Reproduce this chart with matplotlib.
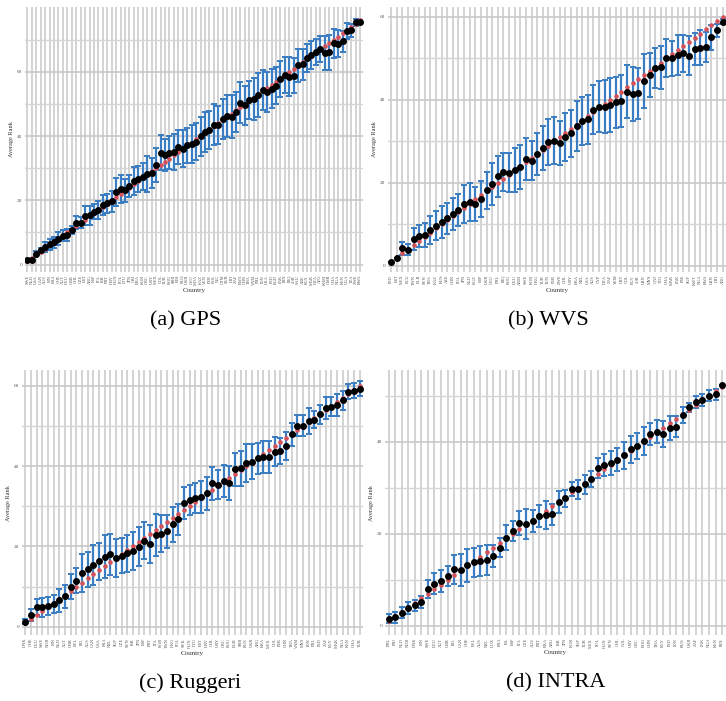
import matplotlib
matplotlib.use("Agg")
import matplotlib.pyplot as plt
import numpy as np

plt.rcParams['font.family'] = ['Liberation Serif', 'DejaVu Serif']

# ---- GPS ----
gps_codes = ["SWE", "NLD", "USA", "CAN", "AUS", "FIN", "FRA", "CHE", "AUT", "DEU",
             "GBR", "CHL", "CZE", "EST", "ARG", "ESP", "ITA", "ISR", "PRT", "HRV",
             "HUN", "POL", "LTU", "JPN", "CRI", "BRA", "KOR", "GRC", "URY", "MEX",
             "COL", "TUR", "ROU", "SRB", "BIH", "RUS", "UKR", "GEO", "MDA", "KAZ",
             "VEN", "PER", "BOL", "NIC", "GTM", "SUR", "HTI", "ZAF", "BWA", "CHN",
             "THA", "VNM", "PHL", "IDN", "LKA", "IND", "BGD", "PAK", "IRN", "IRQ",
             "JOR", "SAU", "ARE", "EGY", "MAR", "DZA", "AFG", "KHM", "CMR", "GHA",
             "NGA", "KEN", "UGA", "TZA", "ZWE", "RWA"]
gps_mean = [1.3, 1.5, 3.4, 4.4, 5.5, 6.3, 6.9, 8.1, 9.0, 9.3,
            10.7, 13.0, 13.1, 15.2, 15.3, 16.5, 17.0, 18.5, 19.1, 19.7,
            22.6, 23.5, 23.1, 24.4, 26.1, 26.7, 27.4, 28.3, 28.5, 31.0,
            34.9, 34.2, 34.9, 35.2, 36.6, 36.1, 37.1, 37.5, 38.3, 39.9,
            41.2, 41.9, 43.5, 43.5, 45.4, 46.3, 46.1, 47.6, 50.4, 49.6,
            51.2, 51.5, 52.8, 54.3, 53.8, 54.8, 55.7, 57.8, 59.0, 58.5,
            58.8, 62.0, 62.4, 64.3, 65.2, 66.2, 67.1, 65.9, 66.1, 68.9,
            68.8, 69.5, 72.7, 72.9, 75.4, 75.6]
gps_err = [0.5, 0.6, 0.8, 0.9, 1.5, 1.8, 1.8, 2.0, 1.8, 1.8,
           1.3, 2.0, 1.8, 2.9, 3.0, 2.3, 2.8, 3.1, 2.9, 3.3,
           4.4, 4.3, 3.6, 3.5, 4.4, 4.1, 4.1, 5.6, 4.7, 5.2,
           5.5, 5.0, 5.2, 5.6, 5.3, 5.8, 5.5, 6.0, 5.7, 6.0,
           6.2, 5.8, 6.4, 6.0, 6.3, 6.5, 6.8, 6.2, 6.3, 6.0,
           6.0, 6.5, 7.0, 6.2, 6.2, 6.0, 5.8, 5.5, 5.6, 6.0,
           5.5, 5.0, 4.8, 4.4, 4.3, 4.1, 4.0, 5.4, 5.5, 4.5,
           4.3, 3.2, 2.6, 2.0, 1.0, 0.6]

# ---- WVS ----
wvs_codes = ["IND", "EST", "MEX", "ECU", "TWN", "BLR", "SVN", "THA", "KAZ", "RUS",
             "AZE", "CHN", "POL", "JPN", "NLD", "KGZ", "ESP", "UKR", "GEO", "PHL",
             "IRQ", "ROU", "DEU", "ARM", "SWE", "KOR", "HKG", "TUR", "TUN", "PER",
             "ZWE", "CHL", "URY", "BRA", "NZL", "USA", "AUS", "CYP", "DZA", "ZAF",
             "YEM", "LBY", "COL", "EGY", "JOR", "LBN", "MYS", "QAT", "TTO", "GHA",
             "MAR", "PAK", "PSE", "SGP", "KWT", "NGA", "RWA", "LBN", "HTI", "ARG"]
wvs_mean = [0.8, 1.8, 4.2, 3.9, 6.5, 7.2, 7.4, 8.6, 9.6, 10.5,
            11.4, 12.5, 13.4, 14.9, 15.4, 14.9, 16.1, 18.2, 19.7, 21.6,
            22.6, 22.4, 23.1, 23.9, 25.7, 25.3, 26.9, 28.3, 29.8, 30.2,
            29.6, 31.0, 31.9, 33.7, 34.9, 35.3, 37.6, 38.4, 38.4, 38.8,
            39.4, 39.8, 42.0, 41.4, 41.6, 44.6, 46.1, 47.7, 47.9, 50.1,
            50.0, 50.9, 51.2, 50.7, 52.3, 52.6, 52.8, 55.1, 56.8, 58.8]
wvs_err = [0.0, 0.0, 1.6, 1.3, 2.7, 2.7, 2.8, 3.3, 3.5, 3.8,
           3.8, 3.8, 3.9, 4.6, 4.5, 4.0, 4.4, 4.5, 5.0, 4.9,
           4.5, 4.7, 5.2, 5.3, 5.0, 4.7, 5.0, 5.3, 5.5, 5.6,
           5.4, 5.8, 5.6, 6.0, 5.8, 5.9, 5.9, 6.2, 6.4, 6.5,
           6.2, 6.3, 6.4, 6.6, 6.2, 6.5, 5.3, 4.9, 5.2, 4.5,
           4.2, 4.8, 4.5, 4.6, 3.8, 4.2, 3.6, 3.0, 1.6, 0.6]

# ---- Ruggeri ----
rug_codes = ["DNK", "CHE", "DEU", "SWE", "NOR", "FIN", "NLD", "AUT", "GBR", "BEL",
             "IRL", "AUS", "CAN", "USA", "FRA", "NZL", "SGP", "CZE", "SVN", "ISR",
             "JPN", "ESP", "PRT", "ITA", "KOR", "TWN", "HKG", "POL", "SVK", "HUN",
             "LTU", "EST", "HRV", "CHL", "URY", "GRC", "ROU", "BGR", "SRB", "RUS",
             "UKR", "ARG", "BRA", "MEX", "COL", "PER", "CHN", "THA", "VNM", "MYS",
             "IDN", "PHL", "IND", "ZAF", "EGY", "MAR", "NGA", "KEN", "GHA", "TUR"]
rug_mean = [1.2, 2.9, 4.9, 4.8, 5.2, 5.6, 6.6, 7.6, 10.0, 11.5,
            13.3, 14.3, 15.4, 16.3, 17.4, 18.0, 17.1, 17.7, 18.3, 18.8,
            19.9, 21.4, 20.6, 22.9, 23.2, 23.8, 25.5, 26.7, 30.8, 31.5,
            32.0, 32.3, 33.2, 35.7, 35.3, 36.3, 35.7, 39.2, 39.4, 40.8,
            41.1, 41.9, 42.2, 42.3, 43.6, 43.8, 45.0, 47.9, 50.1, 50.1,
            51.2, 51.6, 52.9, 54.4, 54.8, 55.2, 56.4, 58.5, 58.8, 59.3]
rug_err = [0.6, 1.6, 2.1, 2.4, 2.3, 2.2, 2.9, 2.9, 3.1, 3.2,
           4.7, 4.3, 4.9, 4.6, 5.4, 5.1, 4.8, 4.4, 4.6, 4.7,
           4.9, 4.6, 4.8, 5.2, 4.5, 4.1, 4.3, 3.9, 4.1, 3.7,
           3.7, 4.0, 4.1, 4.1, 3.6, 4.0, 4.2, 4.1, 4.4, 4.7,
           4.3, 3.9, 4.0, 3.9, 3.7, 3.3, 3.5, 2.9, 2.6, 2.5,
           3.2, 2.2, 2.4, 2.7, 2.3, 2.7, 2.4, 1.9, 1.9, 1.8]

# ---- INTRA ----
intra_codes = ["PHL", "PRI", "NLD", "NOR", "DNK", "FIN", "SWE", "DEU", "AUT", "GBR",
               "IRL", "CAN", "CHE", "BEL", "AUS", "NZL", "LUX", "FRA", "ISL", "ESP",
               "ITA", "CZE", "AUS", "PRT", "BRA", "ARG", "ISR", "JPN", "KOR", "SGP",
               "TUR", "MEX", "POL", "HUN", "SVN", "CHL", "COL", "URY", "GRC", "ROU",
               "CHN", "THA", "EGY", "IND", "IDN", "RUS", "UKR", "ZAF", "PAK", "NGA",
               "KEN", "IRN"]
intra_mean = [1.6, 1.9, 2.9, 3.8, 4.5, 5.2, 8.0, 9.2, 9.8, 10.9,
              12.3, 12.2, 13.2, 13.8, 14.1, 14.3, 15.1, 17.0, 19.2, 20.7,
              22.3, 22.1, 22.8, 23.9, 24.1, 24.3, 27.0, 27.7, 29.7, 29.7,
              30.8, 31.9, 34.4, 34.9, 35.4, 36.1, 37.1, 38.4, 39.1, 40.2,
              41.7, 42.2, 41.7, 43.0, 43.3, 45.9, 47.5, 48.6, 49.1, 50.0,
              50.4, 52.3]
intra_err = [0.9, 1.2, 1.2, 1.3, 1.2, 1.2, 1.9, 2.2, 2.4, 2.2,
             3.2, 3.5, 3.6, 3.2, 3.3, 3.2, 2.4, 2.1, 2.8, 2.2,
             2.6, 3.3, 2.4, 2.4, 3.0, 2.3, 2.4, 1.9, 1.5, 2.1,
             2.1, 1.7, 2.2, 2.4, 2.6, 2.5, 2.9, 2.9, 2.9, 3.1,
             2.3, 2.5, 2.9, 2.6, 2.3, 1.7, 0.9, 1.3, 1.3, 1.2,
             1.2, 0.0]


def draw_panel(ax, codes, mean, err, ylim):
    n = len(codes)
    x = np.arange(1, n + 1)
    ax.errorbar(x, mean, yerr=err, fmt='none', ecolor='#3a7dc2',
                elinewidth=1.6, capsize=2.2, capthick=1.4, zorder=3)
    # true rank position
    ax.plot(x, x, 'o', color='#d65058', ms=2.3, zorder=4)
    ax.plot(x, mean, 'o', color='black', ms=4.0, zorder=5)

    ax.set_xticks(x)
    ax.set_xticklabels(codes, rotation=90, fontsize=3.2, color='#555555')
    major = [t for t in (0, 20, 40, 60) if ylim[0] <= t <= ylim[1]]
    minor = [t for t in (10, 30, 50, 70) if ylim[0] <= t <= ylim[1]]
    ax.set_yticks(major)
    ax.set_yticks(minor, minor=True)
    ax.set_xlim(0.4, n + 0.6)
    ax.set_ylim(*ylim)
    ax.tick_params(axis='both', which='both', length=0, pad=2)
    ax.tick_params(axis='y', labelsize=3.8, labelcolor='#555555')
    ax.grid(axis='x', color='#c8c8c8', lw=1.1, zorder=0)
    ax.grid(axis='y', which='major', color='#c8c8c8', lw=1.2, zorder=0)
    ax.grid(axis='y', which='minor', color='#d5d5d5', lw=1.0, zorder=0)
    ax.set_axisbelow(True)
    for s in ax.spines.values():
        s.set_visible(False)
    ax.set_xlabel("Country", fontsize=5, color='#333333', labelpad=2)
    ax.set_ylabel("Average Rank", fontsize=4.5, color='#333333', labelpad=2)


fig = plt.figure(figsize=(7.26, 7.01), dpi=100)

ax_gps = fig.add_axes([0.034, 0.612, 0.466, 0.378])
ax_wvs = fig.add_axes([0.534, 0.612, 0.466, 0.378])
ax_rug = fig.add_axes([0.030, 0.094, 0.470, 0.378])
ax_int = fig.add_axes([0.530, 0.094, 0.470, 0.378])

draw_panel(ax_gps, gps_codes, gps_mean, gps_err, (-2.3, 80.2))
draw_panel(ax_wvs, wvs_codes, wvs_mean, wvs_err, (-1.5, 62.4))
draw_panel(ax_rug, rug_codes, rug_mean, rug_err, (-2.1, 63.9))
draw_panel(ax_int, intra_codes, intra_mean, intra_err, (-2.0, 55.6))

fig.text(0.255, 1 - 321 / 701, "(a) GPS", ha='center', va='center', fontsize=16)
fig.text(0.755, 1 - 321 / 701, "(b) WVS", ha='center', va='center', fontsize=16)
fig.text(0.262, 1 - 683 / 701, "(c) Ruggeri", ha='center', va='center', fontsize=16)
fig.text(0.766, 1 - 683 / 701, "(d) INTRA", ha='center', va='center', fontsize=16)

fig.savefig("out.png", dpi=100)
